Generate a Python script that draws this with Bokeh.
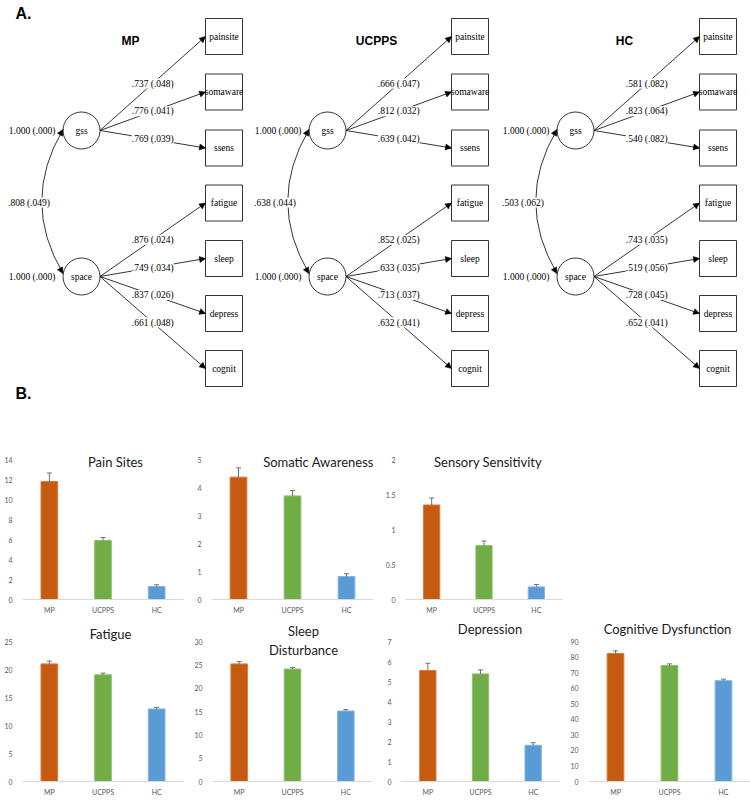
import math
from bokeh.plotting import figure
from bokeh.models import (ColumnDataSource, Range1d, FactorRange, FixedTicker, Label, LabelSet,
                          Arrow, NormalHead, TeeHead, Whisker, NumeralTickFormatter)
from bokeh.layouts import column, row
from bokeh.embed import file_html
from bokeh.resources import INLINE
from bokeh.core.properties import value

# ---------------- Panel A: CFA results (standardized estimates and SE) ----------------
groups = ["MP", "UCPPS", "HC"]
indicators = ["painsite", "somaware", "ssens", "fatigue", "sleep", "depress", "cognit"]
indicator_factor = ["gss", "gss", "gss", "space", "space", "space", "space"]
factors = ["gss", "space"]
factor_variance = [1.000, 1.000]
factor_variance_se = [0.000, 0.000]
mp_loadings = [0.737, 0.776, 0.769, 0.876, 0.749, 0.837, 0.661]
mp_loadings_se = [0.048, 0.041, 0.039, 0.024, 0.034, 0.026, 0.048]
ucpps_loadings = [0.666, 0.812, 0.639, 0.852, 0.633, 0.713, 0.632]
ucpps_loadings_se = [0.047, 0.032, 0.042, 0.025, 0.035, 0.037, 0.041]
hc_loadings = [0.581, 0.823, 0.540, 0.743, 0.519, 0.728, 0.652]
hc_loadings_se = [0.082, 0.064, 0.082, 0.035, 0.056, 0.045, 0.041]
factor_correlation = [0.808, 0.638, 0.503]
factor_correlation_se = [0.049, 0.044, 0.062]

# ---------------- Panel B: group means with SE ----------------
bar_groups = ["MP", "UCPPS", "HC"]
bar_colors = ["#C55A11", "#70AD47", "#5B9BD5"]
bar_edges = ["#DA7A3C", "#8CC06A", "#80B3E2"]
measure_titles = ["Pain Sites", "Somatic Awareness", "Sensory Sensitivity",
                  "Fatigue", "Sleep\nDisturbance", "Depression", "Cognitive Dysfunction"]
pain_sites = [11.8, 5.9, 1.3]
pain_sites_se = [0.85, 0.30, 0.17]
somatic_awareness = [4.37, 3.70, 0.82]
somatic_awareness_se = [0.33, 0.19, 0.10]
sensory_sensitivity = [1.35, 0.77, 0.18]
sensory_sensitivity_se = [0.10, 0.065, 0.035]
fatigue = [21.0, 19.05, 12.95]
fatigue_se = [0.5, 0.3, 0.3]
sleep_disturbance = [25.2, 24.1, 15.1]
sleep_disturbance_se = [0.5, 0.35, 0.3]
depression = [5.55, 5.38, 1.81]
depression_se = [0.36, 0.20, 0.13]
cognitive_dysfunction = [82.3, 74.6, 64.8]
cognitive_dysfunction_se = [1.7, 1.0, 1.0]
pain_ticks = [0, 2, 4, 6, 8, 10, 12, 14]
somatic_ticks = [0, 1, 2, 3, 4, 5]
sensory_ticks = [0, 0.5, 1, 1.5, 2]
fatigue_ticks = [0, 5, 10, 15, 20, 25]
sleep_ticks = [0, 5, 10, 15, 20, 25, 30]
depression_ticks = [0, 1, 2, 3, 4, 5, 6, 7]
cognitive_ticks = [0, 10, 20, 30, 40, 50, 60, 70, 80, 90]


def fmt(v):
    s = f"{v:.3f}"
    return s[1:] if s.startswith("0") else s


def est_label(v, se):
    return f"{fmt(v)} ({fmt(se)})"


# ---------------- Top diagram (page-pixel coordinates) ----------------
SERIF_NAME = '"Liberation Serif"'
SERIF = value(SERIF_NAME)
SANS = value('"Liberation Sans"')
TXT = "9.5px"
TOP_H = 418
top = figure(width=750, height=TOP_H, x_range=Range1d(0, 750), y_range=Range1d(TOP_H, 0),
             output_backend="svg", toolbar_location=None, x_axis_type=None, y_axis_type=None,
             min_border=0)
top.outline_line_color = None

panel_dx = [0, 246, 494]
factor_pos = {"gss": (81, 130), "space": (81, 276)}
circle_r = 18.5
box_left, box_w, box_h = 205, 37, 36
box_y = [36, 91.5, 147.5, 202.5, 258, 313, 368]
all_loadings = [(mp_loadings, mp_loadings_se), (ucpps_loadings, ucpps_loadings_se),
                (hc_loadings, hc_loadings_se)]

top.text(x=[15, 15], y=[13, 393], text=["A.", "B."], text_font=SANS, text_font_style="bold",
         text_font_size="16px", text_align="left", text_baseline="middle", text_color="black")

for k, dx in enumerate(panel_dx):
    est, se = all_loadings[k]
    top.text(x=[130 + dx], y=[40], text=[groups[k]], text_font=SANS, text_font_style="bold",
             text_font_size="12px", text_align="center", text_baseline="middle", text_color="black")
    # lines
    x0 = [factor_pos[f][0] + circle_r + dx for f in indicator_factor]
    y0 = [factor_pos[f][1] for f in indicator_factor]
    x1 = [box_left + dx] * len(indicators)
    y1 = box_y
    top.segment(x0=x0, y0=y0, x1=x1, y1=y1, line_color="black", line_width=0.8)
    xs_s, ys_s = [], []
    for a, b, c, d in zip(x0, y0, x1, y1):
        L = math.hypot(c - a, d - b)
        xs_s.append(c - 6 * (c - a) / L)
        ys_s.append(d - 6 * (d - b) / L)
    asrc = ColumnDataSource(dict(xs=xs_s, ys=ys_s, xe=x1, ye=y1))
    top.add_layout(Arrow(end=NormalHead(size=6, fill_color="black", line_color="black", line_width=0.5),
                         x_start="xs", y_start="ys", x_end="xe", y_end="ye", source=asrc,
                         line_color="black", line_width=0.8))
    # loading labels
    lsrc = ColumnDataSource(dict(x=[(a + c) / 2 for a, c in zip(x0, x1)],
                                 y=[(b + d) / 2 for b, d in zip(y0, y1)],
                                 t=[est_label(v, s) for v, s in zip(est, se)]))
    top.add_layout(LabelSet(x="x", y="y", text="t", source=lsrc, text_font=SERIF,
                            text_font_size=TXT, text_align="center", text_baseline="middle",
                            background_fill_color="white", text_color="black"))
    # boxes
    top.rect(x=[box_left + box_w / 2 + dx] * len(indicators), y=box_y, width=box_w, height=box_h,
             fill_color="white", line_color="black", line_width=0.8)
    top.text(x=[box_left + box_w / 2 + dx] * len(indicators), y=box_y, text=indicators,
             text_font=SERIF, text_font_size=TXT, text_align="center", text_baseline="middle",
             text_color="black")
    # factor circles
    fx = [factor_pos[f][0] + dx for f in factors]
    fy = [factor_pos[f][1] for f in factors]
    top.circle(x=fx, y=fy, radius=circle_r, fill_color="white", line_color="black", line_width=0.8)
    top.text(x=fx, y=fy, text=factors, text_font=SERIF, text_font_size=TXT,
             text_align="center", text_baseline="middle", text_color="black")
    top.text(x=[55 + dx] * 2, y=fy, text=[est_label(v, s) for v, s in zip(factor_variance, factor_variance_se)],
             text_font=SERIF, text_font_size=TXT, text_align="right", text_baseline="middle",
             text_color="black")
    # correlation arc
    ax0, ay0, ax1, ay1, cx, cy = 62.5 + dx, 129, 62.5 + dx, 273, 20 + dx, 201
    top.quadratic(x0=[ax0], y0=[ay0], x1=[ax1], y1=[ay1], cx=[cx], cy=[cy],
                  line_color="black", line_width=0.8)
    hx, hy = [], []
    for ex, ey in [(ax0, ay0), (ax1, ay1)]:
        L = math.hypot(ex - cx, ey - cy)
        hx.append(ex - 6 * (ex - cx) / L)
        hy.append(ey - 6 * (ey - cy) / L)
    csrc = ColumnDataSource(dict(xs=hx, ys=hy, xe=[ax0, ax1], ye=[ay0, ay1]))
    top.add_layout(Arrow(end=NormalHead(size=6, fill_color="black", line_color="black", line_width=0.5),
                         x_start="xs", y_start="ys", x_end="xe", y_end="ye", source=csrc,
                         line_color="black", line_width=0.8))
    top.add_layout(Label(x=28.5 + dx, y=202, text=est_label(factor_correlation[k], factor_correlation_se[k]),
                         text_font=SERIF_NAME, text_font_size=TXT, text_align="center",
                         text_baseline="middle", background_fill_color="white", text_color="black"))


# ---------------- Bar charts ----------------
TICK_SPAN_PX = 140  # pixel distance between the first and last y tick


def bar_chart(title, vals, errs, ticks, width, height, bl, br, bb, title_dx, title_dy):
    src = ColumnDataSource(dict(g=bar_groups, top=vals, up=[v + e for v, e in zip(vals, errs)],
                                color=bar_colors, edge=bar_edges))
    frame_h = height - bb
    y_end = ticks[0] + (ticks[-1] - ticks[0]) * frame_h / TICK_SPAN_PX
    p = figure(x_range=FactorRange(*bar_groups), y_range=Range1d(ticks[0], y_end),
               width=width, height=height, output_backend="svg", toolbar_location=None,
               min_border_left=bl, min_border_right=br, min_border_top=0, min_border_bottom=bb)
    p.vbar(x="g", top="top", width=0.31, fill_color="color", line_color="edge", line_width=1, source=src)
    p.add_layout(Whisker(base="g", lower="top", upper="up", source=src, lower_head=None,
                         upper_head=TeeHead(size=5, line_color="#707070", line_width=1),
                         line_color="#707070", line_width=1, level="overlay"))
    p.xgrid.visible = False
    p.ygrid.visible = False
    p.outline_line_color = None
    p.yaxis.ticker = FixedTicker(ticks=ticks)
    p.yaxis.formatter = NumeralTickFormatter(format="0.[0]")
    p.yaxis.axis_line_color = None
    p.yaxis.major_tick_line_color = None
    p.yaxis.minor_tick_line_color = None
    p.yaxis.major_label_standoff = 4
    p.xaxis.axis_line_color = "#D9D9D9"
    p.xaxis.axis_line_width = 1
    p.xaxis.major_tick_line_color = None
    p.xaxis.major_label_standoff = 0
    for ax in (p.xaxis, p.yaxis):
        ax.major_label_text_font = "Lato"
        ax.major_label_text_font_size = "7px"
        ax.major_label_text_color = "#595959"
    p.add_layout(Label(x=title_dx, y=title_dy, x_units="screen", y_units="screen", text=title,
                       text_font="Lato", text_font_size="13px", text_align="center",
                       text_baseline="middle", text_color="#1a1a1a"))
    return p


# page layout: row 1 spans y 418-618 (axis baseline at 599), row 2 spans y 618-804 (baseline at 781)
R1_H, R1_BB = 200, 19
R2_H, R2_BB = 186, 23
p1 = bar_chart(measure_titles[0], pain_sites, pain_sites_se, pain_ticks,
               194, R1_H, 22, 11, R1_BB, 115 - 22, 599 - 461)
p2 = bar_chart(measure_titles[1], somatic_awareness, somatic_awareness_se, somatic_ticks,
               188, R1_H, 13, 9, R1_BB, 314 - 207, 599 - 461)
p3 = bar_chart(measure_titles[2], sensory_sensitivity, sensory_sensitivity_se, sensory_ticks,
               188, R1_H, 20, 8, R1_BB, 484.5 - 402, 599 - 461)
p4 = bar_chart(measure_titles[3], fatigue, fatigue_se, fatigue_ticks,
               191, R2_H, 22, 8, R2_BB, 110 - 22, 781 - 633)
p5 = bar_chart(measure_titles[4], sleep_disturbance, sleep_disturbance_se, sleep_ticks,
               193, R2_H, 20, 12, R2_BB, 302 - 211, 781 - 640)
p6 = bar_chart(measure_titles[5], depression, depression_se, depression_ticks,
               183, R2_H, 13, 8, R2_BB, 485.5 - 397, 781 - 628)
p7 = bar_chart(measure_titles[6], cognitive_dysfunction, cognitive_dysfunction_se, cognitive_ticks,
               183, R2_H, 20, 0, R2_BB, 666 - 587, 781 - 628)

layout = column(top, row(p1, p2, p3), row(p4, p5, p6, p7))

with open("out.html", "w") as f:
    f.write(file_html(layout, INLINE))
